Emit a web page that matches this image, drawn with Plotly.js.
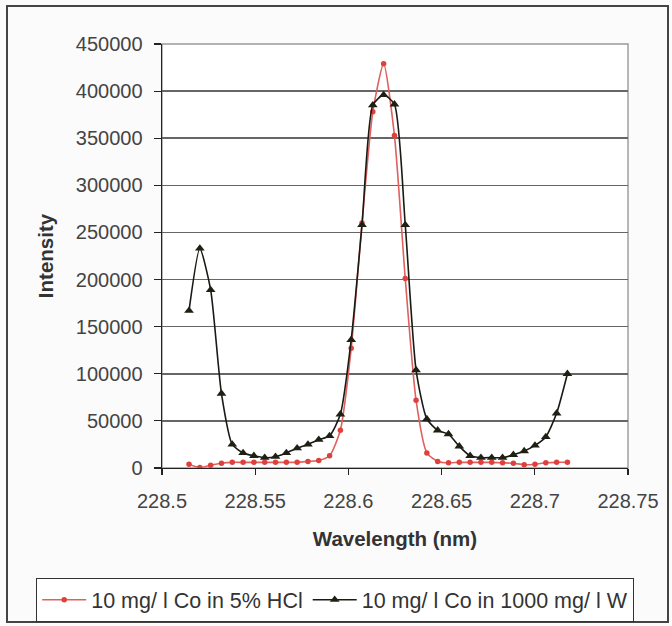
<!DOCTYPE html>
<html>
<head>
<meta charset="utf-8">
<script src="https://cdn.plot.ly/plotly-3.0.1.min.js"></script>
<style>
html,body{margin:0;padding:0;background:#fbfbfb;}
#chart{width:672px;height:626px;}
</style>
</head>
<body>
<div id="chart"></div>
<script>
// Wavelength (nm)
const wavelength = [228.5145, 228.5203, 228.5261, 228.5319, 228.5377, 228.5435, 228.5493, 228.5551, 228.5609, 228.5667,
  228.5725, 228.5783, 228.5841, 228.5899, 228.5957, 228.6015, 228.6073, 228.6131, 228.6189, 228.6247,
  228.6305, 228.6363, 228.6421, 228.6479, 228.6537, 228.6595, 228.6653, 228.6711, 228.6769, 228.6827,
  228.6885, 228.6943, 228.7001, 228.7059, 228.7117, 228.7175];

// 10 mg/ l Co in 5% HCl
const intensityHCl = [4000, 500, 3000, 5000, 6000, 6000, 6000, 6000, 6000, 6000,
  6000, 7000, 8000, 13000, 40000, 127000, 260000, 378000, 429000, 353000,
  201000, 72000, 16000, 7000, 5500, 6000, 6000, 6000, 6000, 5500,
  5000, 3500, 4000, 5500, 6000, 6000];

// 10 mg/ l Co in 1000 mg/ l W
const intensityW = [167000, 233000, 189000, 79000, 25000, 16000, 13000, 11000, 12000, 16000,
  21000, 25000, 30000, 34000, 57000, 136000, 258000, 385000, 396000, 386000,
  258000, 104000, 52000, 40000, 36000, 23000, 13000, 11000, 11000, 11000,
  14000, 18000, 24000, 33000, 58000, 100000];

const seriesNames = ["10 mg/ l Co in 5% HCl", "10 mg/ l Co in 1000 mg/ l W"];
const xTicks = [228.5, 228.55, 228.6, 228.65, 228.7, 228.75];
const yTicks = [0, 50000, 100000, 150000, 200000, 250000, 300000, 350000, 400000, 450000];

const font = "Liberation Sans, Arial, sans-serif";

const traces = [
  {
    x: wavelength, y: intensityHCl, name: seriesNames[0], type: "scatter", mode: "lines+markers",
    line: {color: "#e0605e", width: 1.6, shape: "spline", smoothing: 0.6},
    marker: {symbol: "circle", size: 5.5, color: "#e0403c"}
  },
  {
    x: wavelength, y: intensityW, name: seriesNames[1], type: "scatter", mode: "lines+markers",
    line: {color: "#1a1a14", width: 1.6, shape: "spline", smoothing: 0.6},
    marker: {symbol: "triangle-up", size: 8.5, color: "#1f1f14"}
  }
];

// plot area in pixels: x 162..628, y 44..468
const L = 162, R = 628, T = 44, B = 468;
const pw = R - L, ph = B - T;
const px = v => (v - L) / pw;
const py = v => (B - v) / ph;

const layout = {
  width: 672, height: 626,
  margin: {l: L, r: 672 - R, t: T, b: 626 - B, autoexpand: false},
  paper_bgcolor: "#fbfbfb",
  plot_bgcolor: "#ffffff",
  font: {family: font, color: "#333", size: 18},
  showlegend: true,
  xaxis: {
    range: [228.5, 228.75],
    tickvals: xTicks, ticktext: xTicks.map(String),
    ticks: "outside", ticklen: 6, tickcolor: "#222", tickwidth: 1.2,
    ticklabelstandoff: 9,
    showline: true, linecolor: "#222", linewidth: 1.4,
    showgrid: false, zeroline: false,
    tickfont: {family: font, size: 20, color: "#444"},
    title: {text: "<b>Wavelength (nm)</b>", font: {family: font, size: 20.5, color: "#333"}, standoff: 20}
  },
  yaxis: {
    range: [0, 450000],
    tickvals: yTicks, ticktext: yTicks.map(String),
    ticks: "outside", ticklen: 7, tickcolor: "#222", tickwidth: 1.2,
    ticklabelstandoff: 7,
    showline: true, linecolor: "#222", linewidth: 1.4,
    showgrid: true, gridcolor: "#666", gridwidth: 1.6,
    zeroline: false,
    tickfont: {family: font, size: 20, color: "#444"},
    title: {text: "<b>Intensity</b>", font: {family: font, size: 20.5, color: "#333"}, standoff: 16}
  },
  legend: {
    orientation: "h",
    x: px(36), xanchor: "left",
    y: py(578), yanchor: "top",
    bordercolor: "#333", borderwidth: 1.2, bgcolor: "#ffffff",
    font: {family: font, size: 21.5, color: "#333"},
    itemwidth: 44,
    itemsizing: "trace"
  },
  shapes: [
    {type: "rect", xref: "paper", yref: "paper", x0: 0, x1: 1, y0: 0, y1: 1,
      line: {color: "#999", width: 1.4}, layer: "below"},
    {type: "rect", xref: "paper", yref: "paper", x0: px(7), x1: px(668), y0: py(622), y1: py(6),
      line: {color: "#444", width: 2}}
  ]
};

Plotly.newPlot("chart", traces, layout, {displayModeBar: false, staticPlot: true});
</script>
</body>
</html>
